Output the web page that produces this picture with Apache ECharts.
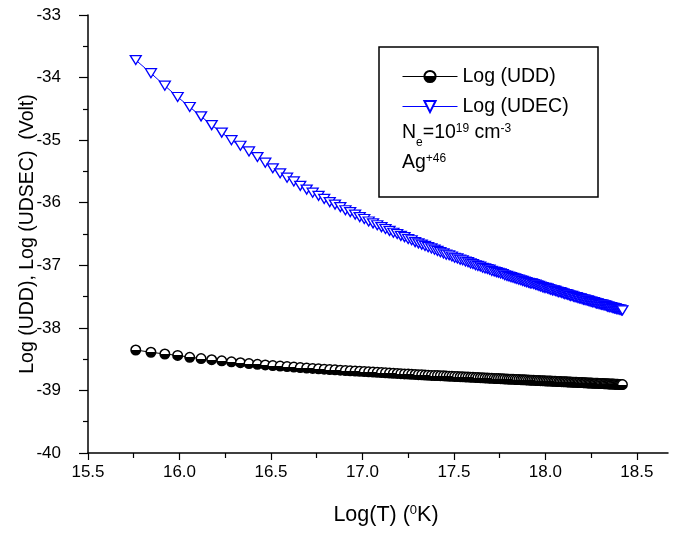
<!DOCTYPE html>
<html>
<head>
<meta charset="utf-8">
<script src="https://cdn.jsdelivr.net/npm/echarts@6/dist/echarts.min.js"></script>
<style>html,body{margin:0;padding:0;background:#fff;}#c{width:676px;height:534px;}</style>
</head>
<body>
<div id="c"></div>
<script>
// Log(T) values shared by both series
const logT = [15.761,15.844,15.920,15.990,16.056,16.118,16.176,16.231,16.284,16.333,16.380,16.426,16.469,16.510,16.550,16.588,16.625,16.660,16.695,16.728,16.760,16.791,16.821,16.850,16.879,16.907,16.933,16.960,16.985,17.010,17.034,17.058,17.081,17.104,17.126,17.148,17.169,17.190,17.210,17.230,17.250,17.269,17.288,17.306,17.324,17.342,17.359,17.377,17.394,17.410,17.426,17.443,17.458,17.474,17.489,17.504,17.519,17.534,17.548,17.563,17.577,17.591,17.604,17.618,17.631,17.644,17.657,17.670,17.683,17.695,17.707,17.720,17.732,17.743,17.755,17.767,17.778,17.790,17.801,17.812,17.823,17.834,17.844,17.855,17.866,17.876,17.886,17.896,17.907,17.917,17.926,17.936,17.946,17.955,17.965,17.974,17.984,17.993,18.002,18.011,18.020,18.029,18.038,18.047,18.055,18.064,18.073,18.081,18.089,18.098,18.106,18.114,18.122,18.130,18.138,18.146,18.154,18.162,18.170,18.177,18.185,18.193,18.200,18.208,18.215,18.222,18.230,18.237,18.244,18.251,18.258,18.265,18.272,18.279,18.286,18.293,18.300,18.306,18.313,18.320,18.326,18.333,18.340,18.346,18.352,18.359,18.365,18.372,18.378,18.384,18.390,18.396,18.403,18.409,18.415,18.421];

const logUDD = [-38.354,-38.390,-38.418,-38.440,-38.470,-38.490,-38.509,-38.526,-38.542,-38.557,
-38.570,-38.582,-38.593,
-38.602,-38.611,-38.619,-38.627,-38.635,-38.642,-38.648,-38.654,-38.660,-38.666,-38.671,-38.677,-38.682,-38.686,
-38.691,-38.695,-38.699,-38.703,-38.707,-38.711,-38.715,-38.719,-38.722,-38.726,-38.729,-38.732,-38.736,-38.739,-38.742,-38.745,-38.748,-38.751,-38.754,-38.757,-38.760,-38.762,
-38.763,-38.765,-38.767,-38.770,-38.772,-38.774,-38.776,-38.779,-38.781,-38.783,-38.785,-38.787,-38.789,-38.791,-38.793,-38.795,-38.797,-38.799,-38.801,-38.803,-38.805,-38.806,-38.808,
-38.810,-38.811,-38.813,-38.815,-38.816,-38.818,-38.820,-38.821,-38.823,-38.824,
-38.826,-38.827,-38.829,-38.830,-38.831,-38.833,-38.834,-38.836,-38.837,-38.838,
-38.840,-38.841,-38.843,-38.844,-38.845,-38.846,-38.848,-38.849,-38.850,-38.851,
-38.853,-38.854,-38.855,-38.856,-38.858,-38.859,-38.860,-38.861,-38.862,-38.863,
-38.864,-38.866,-38.867,-38.868,-38.869,-38.870,-38.871,-38.872,-38.873,-38.874,
-38.875,-38.877,-38.878,-38.879,-38.880,-38.881,-38.882,-38.883,-38.884,-38.885,
-38.885,-38.886,-38.887,-38.888,-38.889,-38.890,-38.891,-38.892,-38.893,-38.894,
-38.895,-38.896,-38.897,-38.898,-38.899,-38.899,-38.900,-38.901,-38.902,-38.903,
-38.904,-38.905,-38.906,-38.906];

const logUDEC = [-33.72,-33.93,-34.13,-34.31,-34.47,-34.62,-34.76,-34.88,-35.00,-35.09,-35.18,-35.27,-35.36,-35.45,
-35.53,-35.60,-35.66,-35.73,-35.79,-35.84,-35.89,-35.94,
-35.99,-36.03,-36.07,-36.12,-36.15,-36.19,-36.23,-36.26,-36.30,-36.33,-36.36,
-36.39,-36.42,-36.45,-36.48,-36.50,-36.53,-36.55,-36.58,-36.60,-36.63,-36.65,-36.67,-36.69,
-36.71,-36.73,-36.75,-36.77,-36.79,-36.81,-36.83,-36.84,-36.86,-36.88,-36.89,-36.91,-36.92,-36.94,-36.95,-36.97,-36.98,-37.00,
-37.01,-37.02,-37.04,-37.05,-37.06,-37.07,-37.09,-37.10,-37.11,-37.12,-37.13,-37.14,-37.16,-37.17,-37.18,-37.19,-37.20,-37.21,-37.22,-37.23,-37.24,-37.25,-37.26,-37.27,-37.28,-37.29,
-37.29,-37.30,-37.31,-37.32,-37.33,-37.34,-37.35,-37.36,-37.36,-37.37,-37.38,-37.39,-37.40,-37.40,-37.41,-37.42,-37.43,-37.43,-37.44,-37.45,-37.46,-37.46,-37.47,-37.48,-37.49,-37.49,-37.50,-37.51,-37.51,-37.52,-37.53,-37.53,-37.54,-37.55,
-37.55,-37.56,-37.56,-37.57,-37.58,-37.58,-37.59,-37.59,-37.60,-37.61,-37.61,-37.62,-37.62,-37.63,-37.63,-37.64,-37.64,-37.65,-37.66,-37.66,-37.67,-37.67,-37.68,-37.68,-37.69,-37.69,-37.70,-37.70,-37.71,-37.71,-37.72,-37.72];

const seriesNames = ['Log (UDD)', 'Log (UDEC)'];
const xMajorTicks = [15.5, 16.0, 16.5, 17.0, 17.5, 18.0, 18.5];
const xMinorTicks = [15.75, 16.25, 16.75, 17.25, 17.75, 18.25];
const yTicks = [-40, -39, -38, -37, -36, -35, -34, -33];

const FONT = '"Liberation Sans", Arial, sans-serif';
const chart = echarts.init(document.getElementById('c'), null, {renderer: 'canvas'});

const halfFill = new echarts.graphic.LinearGradient(0, 0, 0, 1, [
  {offset: 0, color: '#ffffff'}, {offset: 0.5, color: '#ffffff'},
  {offset: 0.5, color: '#000000'}, {offset: 1, color: '#000000'}
]);

const X_MIN = 15.5, X_MAX = 18.67;

chart.setOption({
  animation: false,
  backgroundColor: '#ffffff',
  grid: {left: 88, top: 15, right: 8, bottom: 81, containLabel: false, outerBoundsMode: 'none'},
  xAxis: [{
    type: 'value', min: X_MIN, max: X_MAX, position: 'bottom',
    name: 'Log(T) ({sup|0}K)', nameLocation: 'middle', nameGap: 51, nameMoveOverlap: false,
    nameTextStyle: {fontFamily: FONT, fontSize: 21.5, color: '#000', padding: [0, 0, 0, 16],
      rich: {sup: {fontFamily: FONT, fontSize: 13, color: '#000', verticalAlign: 'top', lineHeight: 11}}},
    axisLine: {show: true, lineStyle: {color: '#000', width: 1.5}},
    axisTick: {show: true, inside: false, length: 7, lineStyle: {color: '#000', width: 1.2}, customValues: xMajorTicks},
    axisLabel: {show: true, fontFamily: FONT, fontSize: 17, color: '#000', margin: 11, customValues: xMajorTicks,
      formatter: v => Number(v).toFixed(1)},
    splitLine: {show: false}
  }, {
    type: 'value', min: X_MIN, max: X_MAX, position: 'bottom', gridIndex: 0,
    axisLine: {show: false},
    axisTick: {show: true, inside: false, length: 5, lineStyle: {color: '#000', width: 1.2}, customValues: xMinorTicks},
    axisLabel: {show: false},
    splitLine: {show: false}
  }],
  yAxis: {
    type: 'value', min: -40, max: -33, interval: 1,
    name: 'Log (UDD), Log (UDSEC)  (Volt)', nameLocation: 'middle', nameGap: 50, nameMoveOverlap: false,
    nameTextStyle: {fontFamily: FONT, fontSize: 19.5, color: '#000'},
    axisLine: {show: true, lineStyle: {color: '#000', width: 1.5}},
    axisTick: {show: true, inside: false, length: 9, lineStyle: {color: '#000', width: 1.2}},
    minorTick: {show: true, splitNumber: 2, length: 5, lineStyle: {color: '#000', width: 1.2}},
    axisLabel: {fontFamily: FONT, fontSize: 17, color: '#000', margin: 27, formatter: v => String(v)},
    splitLine: {show: false}
  },
  legend: {
    show: true, orient: 'vertical', left: 402, top: 66.5, padding: 0,
    itemWidth: 55, itemHeight: 14, itemGap: 10,
    textStyle: {fontFamily: FONT, fontSize: 19.5, color: '#000'},
    lineStyle: {width: 1},
    symbolRotate: 'inherit',
    data: seriesNames, selectedMode: false
  },
  series: [{
    name: seriesNames[0], type: 'line', xAxisIndex: 0,
    data: logT.map((x, i) => [x, logUDD[i]]),
    symbol: 'circle', symbolSize: 9.5, showAllSymbol: true,
    itemStyle: {color: halfFill, borderColor: '#000', borderWidth: 1.5},
    lineStyle: {color: '#000', width: 1},
    emphasis: {disabled: true}
  }, {
    name: seriesNames[1], type: 'line', xAxisIndex: 0,
    data: logT.map((x, i) => [x, logUDEC[i]]),
    symbol: 'triangle', symbolRotate: 180, symbolSize: [11, 9], showAllSymbol: true,
    itemStyle: {color: '#ffffff', borderColor: '#0000ff', borderWidth: 1.3},
    lineStyle: {color: '#0000ff', width: 1},
    emphasis: {disabled: true}
  }],
  graphic: [{
    type: 'rect', shape: {x: 379, y: 47, width: 219, height: 150},
    style: {fill: 'none', stroke: '#000', lineWidth: 1.5}, z: 10
  }, {
    type: 'text', x: 402, y: 133, z: 10,
    style: {text: 'N{sub|e}=10{sup|19} cm{sup|-3}', fontFamily: FONT, fontSize: 19.5, fill: '#000',
      verticalAlign: 'middle',
      rich: {
        sub: {fontFamily: FONT, fontSize: 12, fill: '#000', verticalAlign: 'bottom', lineHeight: 12, padding: [0, 0, -6, 0]},
        sup: {fontFamily: FONT, fontSize: 12, fill: '#000', verticalAlign: 'top', lineHeight: 8}
      }}
  }, {
    type: 'text', x: 402, y: 163, z: 10,
    style: {text: 'Ag{sup|+46}', fontFamily: FONT, fontSize: 19.5, fill: '#000', verticalAlign: 'middle',
      rich: {sup: {fontFamily: FONT, fontSize: 12, fill: '#000', verticalAlign: 'top', lineHeight: 8}}}
  }]
});
</script>
</body>
</html>
